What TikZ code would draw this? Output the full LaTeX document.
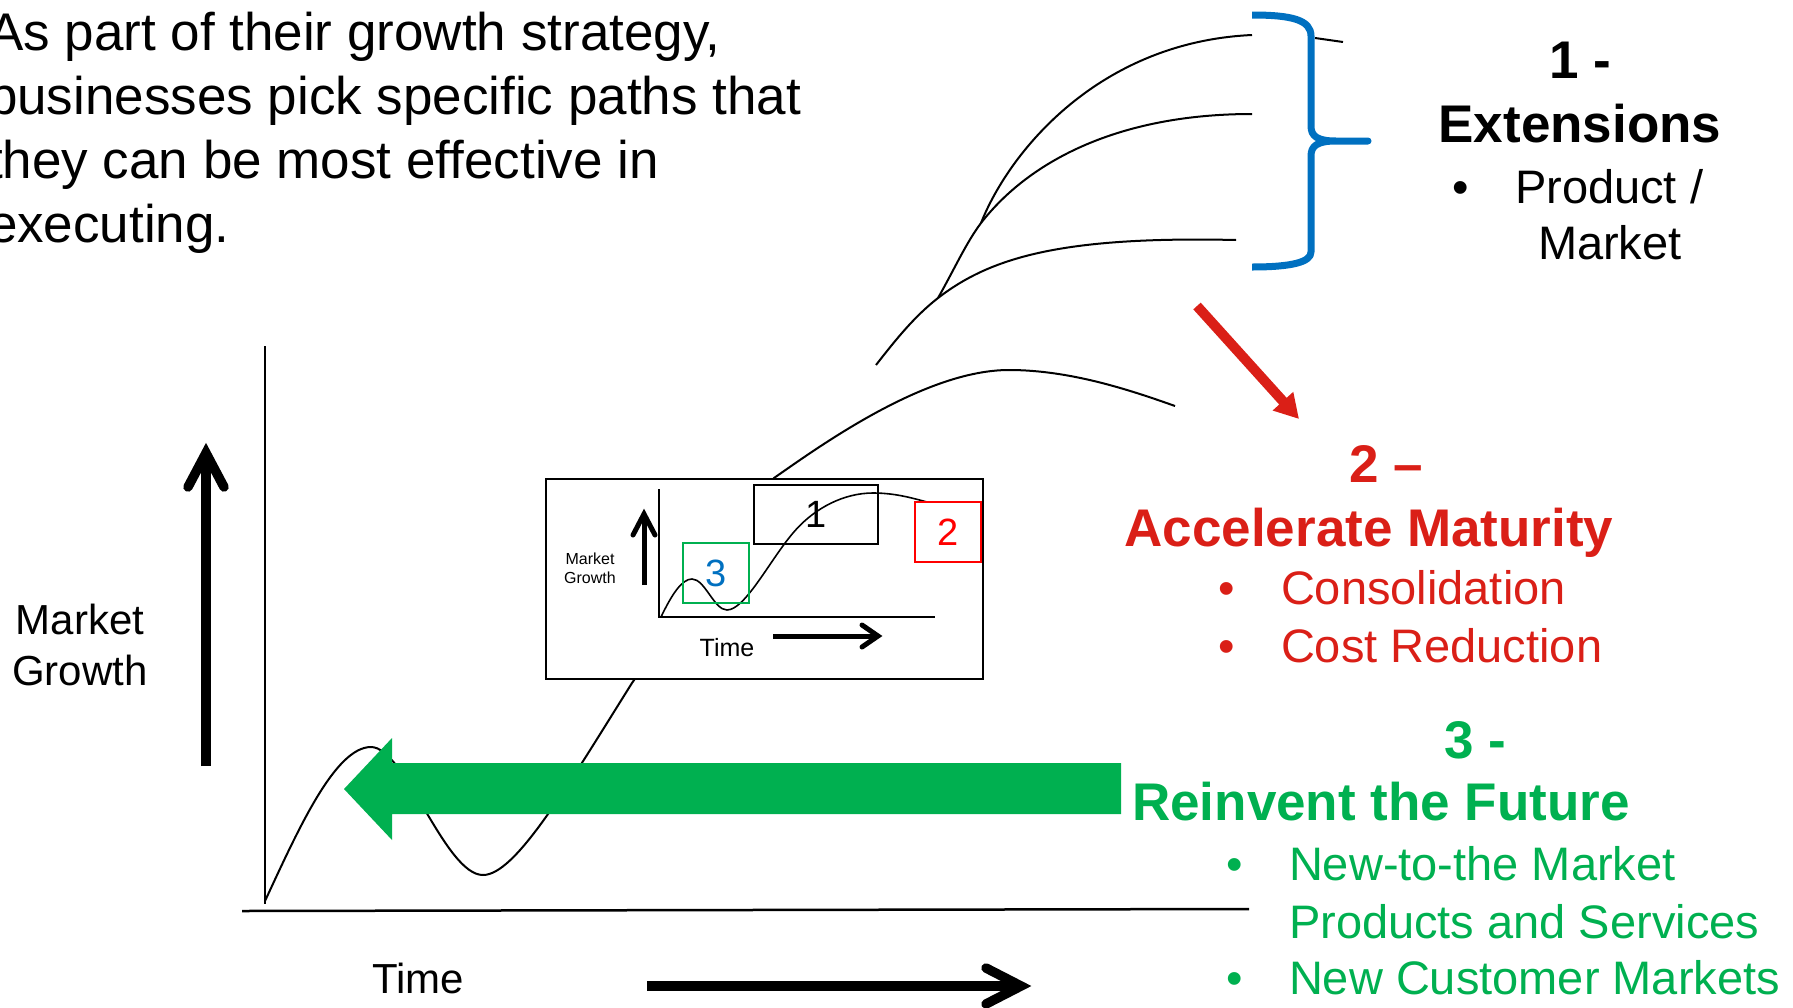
\documentclass[tikz,border=0pt]{standalone}
\usepackage{fontspec}
\setmainfont{Liberation Sans}
\usetikzlibrary{arrows.meta}

\definecolor{accred}{RGB}{218,31,23}
\definecolor{futgreen}{RGB}{0,176,80}
\definecolor{extblue}{RGB}{0,112,192}
\definecolor{boxred}{RGB}{255,0,0}

\newcommand{\fsz}[2]{\fontsize{#1}{#2}\selectfont}

\begin{document}
\begin{tikzpicture}[x=1pt,y=-1pt,
  txt/.style={inner sep=0pt, outer sep=0pt},
  para/.style={txt, font=\fsz{53}{64}},
  lab/.style={txt, font=\fsz{42}{50}},
  head/.style={txt, font=\bfseries\fsz{53}{64}},
  item/.style={txt, font=\fsz{47}{58}},
  curve/.style={line width=2pt, line join=round},
  axis/.style={line width=2.5pt},
  shaft/.style={line width=9.5pt},
  chev/.style={line width=9.5pt, line cap=round, line join=miter},
  smallshaft/.style={line width=5pt},
  smallchev/.style={line width=5pt, line cap=round, line join=miter},
  numbox/.style={draw, line width=1.5pt, inner sep=0pt, font=\fsz{38}{38}},
]
\useasboundingbox (0,0) rectangle (1793,1007);

% ---------- intro paragraph ----------
\node[para, anchor=base west] (p1) at (-12,50)  {As part of their growth strategy,};
\node[para, anchor=base west] (p2) at (-12,114) {businesses pick specific paths that};
\node[para, anchor=base west] (p3) at (-12,178) {they can be most effective in};
\node[para, anchor=base west] (p4) at (-12,242) {executing.};

% ---------- axes of the main chart ----------
\coordinate (yaxTop) at (265,346);
\coordinate (yaxBot) at (265,904);
\coordinate (xaxL) at (242,911);
\coordinate (xaxR) at (1249,909);
\draw[axis] (yaxTop) -- (yaxBot);
\draw[axis] (xaxL) -- (xaxR);

% vertical growth arrow
\coordinate (gaBot) at (206,766);
\coordinate (gaTip) at (206,453);
\draw[shaft] (gaBot) -- (gaTip);
\draw[chev] (188,487) -- (gaTip) -- (224,487);

% time arrow
\coordinate (taL) at (647,986);
\coordinate (taTip) at (1021,986);
\draw[shaft] (taL) -- (taTip);
\draw[chev] (986,968) -- (taTip) -- (986,1004);

\node[lab, anchor=base] (mk) at (80,634) {Market};
\node[lab, anchor=base] (gr) at (80,685) {Growth};
\node[lab, anchor=base] (tm) at (418,993) {Time};

% ---------- life-cycle curve ----------
\coordinate (lcStart) at (265,901);
\coordinate (lcPeak) at (371,747);
\coordinate (lcDip) at (483,875);
\coordinate (lcLow) at (632,683);
\coordinate (lcHigh) at (774,478);
\coordinate (lcTop) at (1009,370);
\coordinate (lcEnd) at (1175,406);
\draw[curve] (lcStart)
  .. controls (298,830) and (335,747) .. (lcPeak)
  .. controls (405,747) and (445,875) .. (lcDip)
  .. controls (515,875) and (565,790) .. (lcLow)
  -- (lcHigh)
  .. controls (820,446) and (925,370) .. (lcTop)
  .. controls (1070,370) and (1130,390) .. (lcEnd);

% extension curves: each branch leaves the one below it
\coordinate (exRoot) at (876,365);
\coordinate (exA) at (938,298);
\coordinate (exB) at (981,223);
\coordinate (exTop) at (1252,35);
\coordinate (exMid) at (1252,114);
\coordinate (exLow) at (1236,240);
\draw[curve] (exRoot)
  .. controls (897,338) and (915,316) .. (exA)
  .. controls (990,258) and (1060,236) .. (exLow);
\draw[curve] (exA)
  .. controls (955,268) and (966,243) .. (exB)
  .. controls (1030,160) and (1120,114) .. (exMid);
\draw[curve] (exB) .. controls (1010,150) and (1100,42) .. (exTop);
\coordinate (exTailA) at (1315,38);
\coordinate (exTailB) at (1343,42);
\draw[curve] (exTailA) -- (exTailB);

% blue brace
\draw[extblue, line width=7pt, line join=round]
  (1252,15) .. controls (1292,15) and (1311,20) .. (1311,36)
  -- (1311,126)
  .. controls (1311,136) and (1317,141) .. (1336,141)
  -- (1368,141) -- (1336,141)
  .. controls (1317,141) and (1311,146) .. (1311,156)
  -- (1311,252)
  .. controls (1311,262) and (1292,267) .. (1252,267);

% red arrow
\coordinate (raA) at (1197,306);
\coordinate (raB) at (1299,419);
\draw[accred, line width=10pt, -{Triangle[length=24pt,width=26pt]}] (raA) -- (raB);

% green arrow
\fill[futgreen] (1121,763) -- (392,763) -- (392,738) -- (344,789)
  -- (392,840) -- (392,814) -- (1121,814) -- cycle;

% ---------- inset chart ----------
\node[draw, fill=white, line width=2pt, minimum width=437pt, minimum height=200pt, inner sep=0pt]
  (inset) at (764.5,579) {};
\draw[line width=1.6pt] (659,489) -- (659,617) -- (935,617);
\draw[line width=1.6pt] (661,617)
  .. controls (672,594) and (682,579) .. (692,579)
  .. controls (705,579) and (714,610) .. (727,610)
  .. controls (745,610) and (770,560) .. (793,533)
  .. controls (815,507) and (845,493) .. (873,493)
  .. controls (895,493) and (912,498) .. (927,502);
\coordinate (iaBot) at (644,585);
\coordinate (iaTip) at (644,514);
\draw[smallshaft] (iaBot) -- (iaTip);
\draw[smallchev] (633,535) -- (iaTip) -- (655,535);
\coordinate (itL) at (773,636);
\coordinate (itTip) at (878,636);
\draw[smallshaft] (itL) -- (itTip);
\draw[smallchev] (862,625) -- (itTip) -- (862,647);
\node[txt, anchor=base, font=\fsz{16}{19}] (imk) at (590,564) {Market};
\node[txt, anchor=base, font=\fsz{16}{19}] (igr) at (590,583) {Growth};
\node[txt, anchor=base, font=\fsz{25}{25}] (itm) at (727,656) {Time};
\node[numbox, draw=black, minimum width=124pt, minimum height=59pt] (box1) at (816,514.5) {1};
\node[numbox, draw=boxred, text=boxred, minimum width=66pt, minimum height=60pt] (box2) at (948,532) {2};
\node[numbox, draw=futgreen, text=extblue, minimum width=66pt, minimum height=60pt] (box3) at (716,573) {3};

% ---------- strategy texts ----------
\node[head, anchor=base] (h1n) at (1580,78) {1 -};
\node[head, anchor=base] (h1) at (1580,142) {Extensions};
\node[item, anchor=base] (b1) at (1461,203) {•};
\node[item, anchor=base west] (t1a) at (1515,203) {Product /};
\node[item, anchor=base west] (t1b) at (1538,259) {Market};

\node[head, text=accred, anchor=base] (h2n) at (1386,482) {2 –};
\node[head, text=accred, anchor=base] (h2) at (1369,546) {Accelerate Maturity};
\node[item, text=accred, anchor=base] (b2a) at (1227,604) {•};
\node[item, text=accred, anchor=base west] (t2a) at (1281,604) {Consolidation};
\node[item, text=accred, anchor=base] (b2b) at (1227,662) {•};
\node[item, text=accred, anchor=base west] (t2b) at (1281,662) {Cost Reduction};

\node[head, text=futgreen, anchor=base] (h3n) at (1475,758) {3 -};
\node[head, text=futgreen, anchor=base] (h3) at (1381,820) {Reinvent the Future};
\node[item, text=futgreen, anchor=base] (b3a) at (1235,880) {•};
\node[item, text=futgreen, anchor=base west] (t3a) at (1289,880) {New-to-the Market};
\node[item, text=futgreen, anchor=base west] (t3b) at (1289,938) {Products and Services};
\node[item, text=futgreen, anchor=base] (b3c) at (1235,994) {•};
\node[item, text=futgreen, anchor=base west] (t3c) at (1289,994) {New Customer Markets};
\end{tikzpicture}
\end{document}
